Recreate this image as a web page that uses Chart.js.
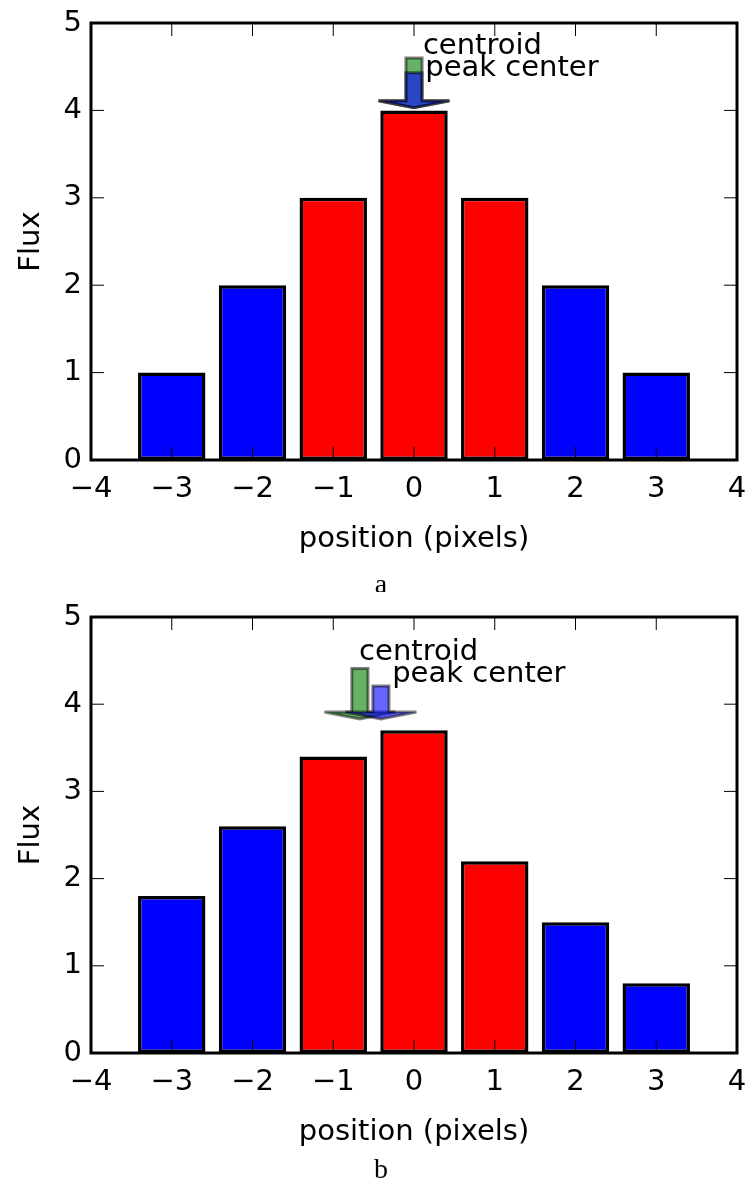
<!DOCTYPE html>
<html>
<head>
<meta charset="utf-8">
<script src="https://cdn.jsdelivr.net/npm/chart.js@4.4.0/dist/chart.umd.min.js"></script>
<style>
  body { margin: 0; background: #fff; }
  canvas { display: block; }
</style>
</head>
<body>
<canvas id="panelA" width="749" height="592"></canvas>
<canvas id="panelB" width="749" height="593"></canvas>
<script>
// data
var positions = [-3, -2, -1, 0, 1, 2, 3];
var fluxA = [1, 2, 3, 4, 3, 2, 1];
var fluxB = [1.8, 2.6, 3.4, 3.7, 2.2, 1.5, 0.8];
var barColors = ["blue", "blue", "red", "red", "red", "blue", "blue"];
var xTicks = [-4, -3, -2, -1, 0, 1, 2, 3, 4];
var yTicks = [0, 1, 2, 3, 4, 5];

// arrows: centroid, peak center
var arrowNames = ["centroid", "peak center"];
var arrowColors = ["rgba(0,128,0,0.6)", "rgba(0,0,255,0.6)"];
var arrowXA = [0, 0];
var arrowTopA = [4.6, 4.43];
var arrowTipA = [4.03, 4.03];
var labelXA = [0.11, 0.14];
var labelYA = [4.64, 4.39];
var arrowXB = [-0.67, -0.41];
var arrowTopB = [4.41, 4.21];
var arrowTipB = [3.83, 3.83];
var labelXB = [-0.68, -0.27];
var labelYB = [4.51, 4.26];

Chart.defaults.font.family = "DejaVu Sans";
Chart.defaults.font.size = 29;
Chart.defaults.color = "#000";

function tickLabel(v) {
  return v < 0 ? "\u2212" + Math.abs(v) : String(v);
}

// frame, inward ticks, arrows and caption
var decorPlugin = {
  id: "decor",
  afterDatasetsDraw: function (chart) {
    var o = chart.options.plugins.decor;
    var ctx = chart.ctx, xs = chart.scales.x, ys = chart.scales.y;
    ctx.save();
    for (var i = 0; i < o.arrowX.length; i++) {
      var cx = xs.getPixelForValue(o.arrowX[i]);
      var hw = (xs.getPixelForValue(0.1) - xs.getPixelForValue(0)); // half shaft
      var hh = (xs.getPixelForValue(0.44) - xs.getPixelForValue(0)); // half head
      var top = ys.getPixelForValue(o.arrowTop[i]);
      var tip = ys.getPixelForValue(o.arrowTip[i]);
      var neck = ys.getPixelForValue(o.arrowTip[i] + 0.08);
      ctx.beginPath();
      ctx.moveTo(cx - hw, top);
      ctx.lineTo(cx - hw, neck);
      ctx.lineTo(cx - hh, neck);
      ctx.lineTo(cx, tip);
      ctx.lineTo(cx + hh, neck);
      ctx.lineTo(cx + hw, neck);
      ctx.lineTo(cx + hw, top);
      ctx.closePath();
      ctx.fillStyle = arrowColors[i];
      ctx.fill();
      ctx.lineWidth = 3;
      ctx.lineJoin = "miter";
      ctx.miterLimit = 2;
      ctx.strokeStyle = "rgba(0,0,0,0.5)";
      ctx.stroke();
    }
    ctx.fillStyle = "#000";
    ctx.font = "29px 'DejaVu Sans'";
    ctx.textAlign = "left";
    ctx.textBaseline = "alphabetic";
    for (var j = 0; j < arrowNames.length; j++) {
      ctx.fillText(arrowNames[j], xs.getPixelForValue(o.labelX[j]), ys.getPixelForValue(o.labelY[j]));
    }
    ctx.restore();
  },
  afterDraw: function (chart) {
    var o = chart.options.plugins.decor;
    var ctx = chart.ctx, a = chart.chartArea, xs = chart.scales.x, ys = chart.scales.y;
    ctx.save();
    ctx.strokeStyle = "#000";
    ctx.lineWidth = 1;
    ctx.beginPath();
    xTicks.forEach(function (v) {
      var px = xs.getPixelForValue(v);
      ctx.moveTo(px, a.bottom); ctx.lineTo(px, a.bottom - 13);
      ctx.moveTo(px, a.top); ctx.lineTo(px, a.top + 13);
    });
    yTicks.forEach(function (v) {
      var py = ys.getPixelForValue(v);
      ctx.moveTo(a.left, py); ctx.lineTo(a.left + 13, py);
      ctx.moveTo(a.right, py); ctx.lineTo(a.right - 13, py);
    });
    ctx.stroke();
    ctx.lineWidth = 3;
    ctx.strokeRect(a.left, a.top, a.right - a.left, a.bottom - a.top);
    ctx.fillStyle = "#000";
    ctx.font = "28px 'Liberation Serif'";
    ctx.textAlign = "center";
    ctx.textBaseline = "middle";
    ctx.fillText(o.caption, 381, o.captionY);
    ctx.restore();
  }
};

function makeChart(id, values, arrows, caption, captionY, padTop) {
  var points = positions.map(function (p, i) { return { x: p, y: values[i] }; });
  return new Chart(document.getElementById(id), {
    type: "bar",
    data: {
      datasets: [{
        data: points,
        backgroundColor: barColors,
        borderColor: "#000",
        borderWidth: 3.5,
        borderSkipped: false,
        categoryPercentage: 1,
        barPercentage: 0.835
      }]
    },
    options: {
      responsive: false,
      animation: false,
      layout: { padding: { top: padTop, right: 12, bottom: 35, left: 0 } },
      plugins: {
        legend: { display: false },
        tooltip: { enabled: false },
        decor: {
          arrowX: arrows.x, arrowTop: arrows.top, arrowTip: arrows.tip,
          labelX: arrows.lx, labelY: arrows.ly,
          caption: caption, captionY: captionY
        }
      },
      scales: {
        x: {
          type: "linear",
          min: -4, max: 4,
          offset: false,
          grid: { display: false, drawTicks: false, offset: false },
          border: { display: false },
          afterBuildTicks: function (s) { s.ticks = xTicks.map(function (v) { return { value: v }; }); },
          afterFit: function (s) { s.height = 97; s.paddingLeft = 0; s.paddingRight = 0; },
          ticks: { padding: 12, maxRotation: 0, autoSkip: false, callback: tickLabel },
          title: { display: true, text: "position (pixels)", padding: { top: 0, bottom: 0 } }
        },
        y: {
          min: 0, max: 5,
          grid: { display: false, drawTicks: false },
          border: { display: false },
          afterBuildTicks: function (s) { s.ticks = yTicks.map(function (v) { return { value: v }; }); },
          afterFit: function (s) { s.width = 91; s.paddingTop = 0; s.paddingBottom = 0; },
          ticks: { padding: 9, callback: tickLabel },
          title: { display: true, text: "Flux", padding: { top: 14, bottom: 0 } }
        }
      }
    },
    plugins: [decorPlugin]
  });
}

makeChart("panelA", fluxA,
  { x: arrowXA, top: arrowTopA, tip: arrowTipA, lx: labelXA, ly: labelYA }, "a", 586, 23);
makeChart("panelB", fluxB,
  { x: arrowXB, top: arrowTopB, tip: arrowTipB, lx: labelXB, ly: labelYB }, "b", 579, 25);
</script>
</body>
</html>
